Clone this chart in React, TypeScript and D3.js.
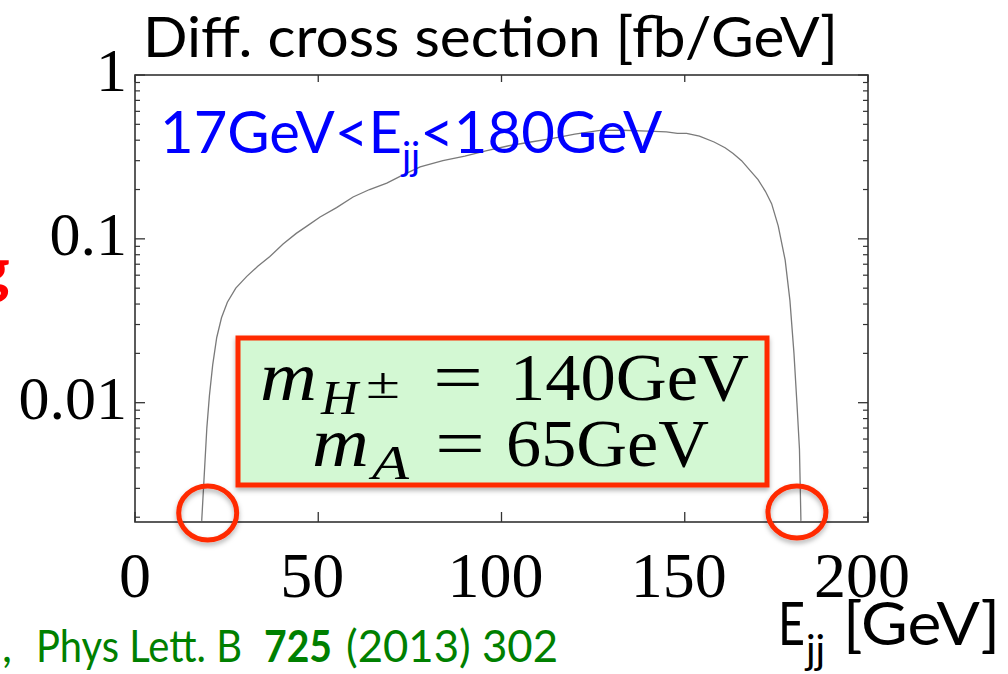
import React from 'react';
import * as d3 from 'd3';

// Differential cross section vs dijet energy (fb/GeV)
const energy = [
  18.2, 19.0, 19.6, 20.3, 21.2, 22.3, 23.6, 25.2, 27.5, 30.5, 33.5, 36.8,
  40.4, 44.0, 47.0, 50.5, 55.0, 59.5, 64.0, 68.7, 73.0, 77.8, 84.0, 90.0,
  96.0, 102.0, 108.0, 114.0, 120.0, 126.9, 133.0, 140.0, 145.0, 148.0,
  150.5, 154.0, 158.0, 161.0, 163.2, 165.5, 167.8, 170.0, 172.0, 173.7,
  175.5, 177.4, 178.7, 179.8, 180.6, 181.3, 181.7,
];
const xsec = [
  0.0019, 0.004, 0.007, 0.011, 0.017, 0.025, 0.033, 0.041, 0.05, 0.059, 0.068, 0.078,
  0.093, 0.108, 0.12, 0.136, 0.155, 0.18, 0.2, 0.219, 0.245, 0.275, 0.3, 0.32,
  0.345, 0.37, 0.39, 0.41, 0.435, 0.459, 0.46, 0.455, 0.45, 0.44,
  0.44, 0.423, 0.39, 0.36, 0.332, 0.3, 0.262, 0.23, 0.195, 0.164,
  0.12, 0.0742, 0.042, 0.02, 0.01, 0.0052, 0.0019,
];

const xTickValues = [0, 50, 100, 150, 200];
const xTickLabels = ['0', '50', '100', '150', '200'];
const yTickValues = [1, 0.1, 0.01];
const yTickLabels = ['1', '0.1', '0.01'];
const xDomain: [number, number] = [0, 200];
const yDomain: [number, number] = [0.00187, 1];

const W = 1008;
const H = 674;
const plot = { left: 135, right: 868, top: 75, bottom: 522 };

const SANS = 'Lato, "Open Sans", sans-serif';
const SERIF = '"Liberation Serif", "DejaVu Serif", serif';
const RED = '#ff2a00';

export default function App() {
  const x = d3.scaleLinear().domain(xDomain).range([plot.left, plot.right]);
  const y = d3.scaleLog().domain(yDomain).range([plot.bottom, plot.top]);

  const pts: [number, number][] = energy.map((e, i) => [e, xsec[i]]);
  const line = d3
    .line<[number, number]>()
    .x((d) => x(d[0]))
    .y((d) => y(Math.max(d[1], yDomain[0])));

  const logTicks = y.ticks();
  const isDecade = (v: number) => Math.abs(Math.log10(v) - Math.round(Math.log10(v))) < 1e-6;
  const minorY = logTicks.filter((v) => !isDecade(v));
  const majorY = logTicks.filter((v) => isDecade(v));

  const first = pts[0];
  const last = pts[pts.length - 1];

  return (
    <svg
      width={W}
      height={H}
      viewBox={`0 0 ${W} ${H}`}
      style={{ position: 'absolute', left: 0, top: 0, background: '#fff' }}
    >
      <defs>
        <filter id="shadow" x="-20%" y="-20%" width="140%" height="150%">
          <feDropShadow dx="0" dy="3" stdDeviation="2.5" floodColor="#000" floodOpacity="0.3" />
        </filter>
        <clipPath id="plotClip">
          <rect x={plot.left} y={plot.top} width={plot.right - plot.left} height={plot.bottom - plot.top} />
        </clipPath>
      </defs>
      <rect width={W} height={H} fill="#fff" />

      {/* title */}
      <text
        x={143}
        y={57}
        fontFamily={SANS}
        fontSize={56}
        fill="#000"
        textLength={695}
        lengthAdjust="spacingAndGlyphs"
      >
        Diff. cross section [fb/GeV]
      </text>

      {/* clipped red label on the left margin */}
      <text x={-24} y={292} fontFamily={SANS} fontWeight={700} fontSize={64} fill="#ff0000">
        g
      </text>

      {/* curve */}
      <path
        d={line(pts) || ''}
        fill="none"
        stroke="#7a7a7a"
        strokeWidth={1.3}
        clipPath="url(#plotClip)"
      />

      {/* y ticks, both sides */}
      {minorY.map((v) => (
        <g key={`my${v}`} stroke="#333" strokeWidth={1.2}>
          <line x1={plot.left} x2={plot.left + 5} y1={y(v)} y2={y(v)} />
          <line x1={plot.right} x2={plot.right - 5} y1={y(v)} y2={y(v)} />
        </g>
      ))}
      {majorY.map((v) => (
        <g key={`My${v}`} stroke="#333" strokeWidth={1.3}>
          <line x1={plot.left} x2={plot.left + 10} y1={y(v)} y2={y(v)} />
          <line x1={plot.right} x2={plot.right - 10} y1={y(v)} y2={y(v)} />
        </g>
      ))}

      {/* x ticks, top and bottom */}
      {xTickValues.map((v) => (
        <g key={`xt${v}`} stroke="#333" strokeWidth={1.3}>
          <line x1={x(v)} x2={x(v)} y1={plot.bottom} y2={plot.bottom - 10} />
          <line x1={x(v)} x2={x(v)} y1={plot.top} y2={plot.top + 7} />
        </g>
      ))}

      {/* frame */}
      <rect
        x={plot.left}
        y={plot.top}
        width={plot.right - plot.left}
        height={plot.bottom - plot.top}
        fill="none"
        stroke="#333"
        strokeWidth={1.6}
      />

      {/* tick labels */}
      {xTickValues.map((v, i) => (
        <text
          key={`xl${v}`}
          x={x(v) - (i === 0 ? 0 : 6)}
          y={597}
          textAnchor="middle"
          fontFamily={SERIF}
          fontSize={64}
          fill="#000"
        >
          {xTickLabels[i]}
        </text>
      ))}
      {yTickValues.map((v, i) => (
        <text
          key={`yl${v}`}
          x={plot.left - 8}
          y={y(v) + 16}
          textAnchor="end"
          fontFamily={SERIF}
          fontSize={62}
          fill="#000"
        >
          {yTickLabels[i]}
        </text>
      ))}

      {/* energy window */}
      <text x={160} y={153} fontFamily={SANS} fontSize={58} fill="#0000ff">
        <tspan>17GeV&lt;E</tspan>
        <tspan fontSize={38} dy={17}>jj</tspan>
        <tspan dy={-17}>&lt;180GeV</tspan>
      </text>

      {/* mass box */}
      <rect
        x={238}
        y={338}
        width={529}
        height={147}
        fill="#d3f8d3"
        stroke={RED}
        strokeWidth={5}
        filter="url(#shadow)"
      />
      <g fontFamily={SERIF} fill="#000">
        <text x={260} y={400} fontSize={70} fontStyle="italic" textLength={57} lengthAdjust="spacingAndGlyphs">m</text>
        <text x={321} y={414} fontSize={48} fontStyle="italic" textLength={37} lengthAdjust="spacingAndGlyphs">H</text>
        <text x={366} y={398} fontSize={44} textLength={34} lengthAdjust="spacingAndGlyphs">±</text>
        <text x={433} y={400} fontSize={68} textLength={50} lengthAdjust="spacingAndGlyphs">=</text>
        <text x={510} y={400} fontSize={68} textLength={239} lengthAdjust="spacingAndGlyphs">140GeV</text>

        <text x={312} y={466} fontSize={70} fontStyle="italic" textLength={57} lengthAdjust="spacingAndGlyphs">m</text>
        <text x={372} y={479} fontSize={48} fontStyle="italic" textLength={37} lengthAdjust="spacingAndGlyphs">A</text>
        <text x={435} y={466} fontSize={68} textLength={50} lengthAdjust="spacingAndGlyphs">=</text>
        <text x={506} y={466} fontSize={68} textLength={203} lengthAdjust="spacingAndGlyphs">65GeV</text>
      </g>

      {/* endpoint markers */}
      <ellipse
        cx={x(first[0]) + 6}
        cy={plot.bottom - 9}
        rx={29}
        ry={27}
        fill="none"
        stroke={RED}
        strokeWidth={5}
        filter="url(#shadow)"
      />
      <ellipse
        cx={x(last[0]) - 4}
        cy={plot.bottom - 10}
        rx={29}
        ry={26}
        fill="none"
        stroke={RED}
        strokeWidth={5}
        filter="url(#shadow)"
      />

      {/* x-axis title */}
      <g fontFamily={SANS} fill="#000">
        <text x={778} y={645} fontSize={60} textLength={27} lengthAdjust="spacingAndGlyphs">E</text>
        <text x={806} y={664} fontSize={40}>jj</text>
        <text x={843} y={645} fontSize={60} textLength={157} lengthAdjust="spacingAndGlyphs">[GeV]</text>
      </g>

      {/* reference */}
      <g fontFamily={SANS} fontSize={44} fill="#008000">
        <text x={2} y={662}>,</text>
        <text x={36} y={662} textLength={206} lengthAdjust="spacingAndGlyphs">Phys Lett. B</text>
        <text x={264} y={662} fontWeight={700} textLength={68} lengthAdjust="spacingAndGlyphs">725</text>
        <text x={346} y={662} textLength={212} lengthAdjust="spacingAndGlyphs">(2013) 302</text>
      </g>
    </svg>
  );
}
